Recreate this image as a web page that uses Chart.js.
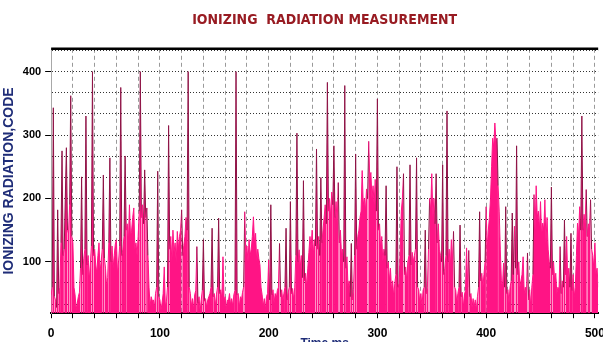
<!DOCTYPE html>
<html>
<head>
<meta charset="utf-8">
<script src="https://cdn.jsdelivr.net/npm/chart.js@4.4.0/dist/chart.umd.min.js"></script>
<style>
  html, body { margin: 0; padding: 0; background: #fff; overflow: hidden; }
  .chart-box { width: 613px; height: 351px; }
</style>
</head>
<body>
<div class="chart-box"><canvas id="radiation"></canvas></div>
<script>
// one reading per ms
const timeStepMs = 1;
const radiation = [
    48, 60, 343, 45, 40, 28, 182, 50, 60, 130,
    275, 110, 120, 200, 280, 150, 145, 190, 362, 140,
    130, 60, 48, 25, 35, 45, 52, 90, 234, 80,
    105, 120, 330, 95, 110, 70, 95, 125, 400, 110,
    120, 95, 82, 110, 130, 85, 100, 120, 237, 105,
    90, 60, 75, 130, 264, 100, 125, 90, 110, 128,
    135, 80, 100, 125, 375, 110, 120, 140, 267, 150,
    160, 130, 190, 140, 150, 170, 185, 120, 130, 110,
    140, 180, 400, 170, 190, 160, 245, 170, 185, 110,
    60, 30, 45, 38, 40, 28, 50, 60, 243, 45,
    40, 24, 35, 50, 92, 30, 38, 60, 315, 120,
    140, 100, 150, 115, 130, 100, 148, 120, 140, 150,
    182, 110, 126, 140, 170, 150, 400, 60, 50, 30,
    42, 25, 48, 55, 124, 35, 45, 22, 40, 55,
    135, 38, 42, 28, 40, 45, 50, 60, 153, 45,
    50, 30, 48, 60, 169, 50, 56, 40, 108, 38,
    45, 25, 40, 38, 50, 32, 42, 30, 48, 55,
    400, 48, 50, 28, 45, 40, 52, 60, 179, 110,
    125, 100, 135, 110, 120, 140, 171, 130, 145, 100,
    120, 105, 95, 60, 48, 30, 42, 25, 45, 50,
    103, 40, 190, 48, 56, 35, 50, 42, 55, 60,
    129, 45, 56, 38, 50, 60, 153, 40, 52, 60,
    195, 50, 58, 40, 60, 110, 303, 100, 119, 90,
    110, 75, 228, 70, 82, 60, 90, 115, 140, 120,
    150, 110, 135, 125, 278, 120, 140, 110, 233, 130,
    150, 170, 190, 160, 383, 180, 200, 170, 210, 190,
    283, 170, 195, 160, 225, 130, 150, 110, 120, 100,
    378, 90, 108, 60, 70, 45, 129, 40, 56, 110,
    270, 120, 140, 150, 170, 180, 244, 190, 200, 180,
    215, 200, 290, 230, 241, 200, 220, 190, 230, 180,
    357, 150, 160, 120, 140, 100, 120, 110, 220, 90,
    100, 70, 90, 55, 70, 45, 66, 80, 250, 60,
    66, 120, 180, 200, 239, 80, 92, 70, 100, 110,
    253, 95, 115, 100, 110, 120, 264, 60, 56, 35,
    50, 30, 55, 60, 150, 50, 60, 120, 200, 180,
    239, 170, 200, 160, 239, 130, 160, 120, 110, 100,
    253, 80, 90, 110, 338, 100, 120, 90, 135, 100,
    148, 60, 56, 35, 50, 60, 158, 45, 52, 28,
    48, 55, 122, 60, 118, 45, 50, 28, 42, 30,
    40, 24, 45, 60, 179, 70, 82, 60, 80, 100,
    187, 120, 150, 170, 200, 250, 295, 280, 319, 290,
    295, 220, 180, 120, 70, 60, 98, 60, 187, 50,
    56, 35, 60, 70, 177, 80, 156, 90, 283, 80,
    100, 60, 70, 80, 108, 50, 60, 45, 114, 40,
    56, 30, 60, 80, 206, 150, 220, 170, 180, 150,
    195, 140, 161, 150, 198, 130, 170, 120, 100, 90,
    218, 80, 100, 70, 82, 50, 60, 55, 124, 50,
    70, 60, 166, 80, 140, 70, 90, 60, 145, 55,
    80, 45, 60, 110, 161, 140, 187, 150, 330, 150,
    175, 160, 214, 140, 160, 150, 198, 120, 110, 90,
    130, 80, 90, 60
];
const xTickLabels = [0, 100, 200, 300, 400, 500];
const yTickLabels = [100, 200, 300, 400];

const points = radiation.map((v, i) => ({ x: i * timeStepMs, y: v }));

const isLabelled = (labels, value) => labels.some(l => Math.abs(l - value) < 0.01);

const navy = "#1f2d78";
const pink = "#ff1485";
const maroon = "#8e1446";

const ctx = document.getElementById("radiation").getContext("2d");

new Chart(ctx, {
    type: "line",
    data: {
        datasets: [{
            data: points,
            borderColor: pink,
            borderWidth: 1,
            backgroundColor: pink,
            fill: "start",
            pointRadius: 0,
            tension: 0,
            // tall jumps (the spikes) are drawn dark, the rest blends into the fill
            segment: {
                borderColor: (s) => Math.abs(s.p1.parsed.y - s.p0.parsed.y) > 70 ? maroon : pink
            }
        }]
    },
    options: {
        responsive: true,
        maintainAspectRatio: false,
        animation: false,
        layout: { padding: { left: 0, right: 0, top: 0, bottom: 0 } },
        plugins: {
            legend: { display: false },
            tooltip: { enabled: false },
            title: {
                display: true,
                fullSize: false,
                text: "IONIZING  RADIATION MEASUREMENT",
                color: "#981b22",
                font: { family: "'Liberation Sans Narrow', 'DejaVu Sans Condensed', sans-serif", size: 14, weight: "bold" },
                padding: { top: 12, bottom: 20 }
            }
        },
        scales: {
            x: {
                type: "linear",
                min: 0,
                max: 503,
                border: { display: true, color: "#000", width: 2, dash: [4, 3] },
                grid: {
                    color: "#9a9a9a",
                    tickColor: "#000",
                    tickLength: 5
                },
                ticks: {
                    stepSize: 20,
                    includeBounds: false,
                    autoSkip: false,
                    maxRotation: 0,
                    padding: 8,
                    color: "#000",
                    font: { family: "'Liberation Sans Narrow', sans-serif", size: 12, weight: "bold" },
                    callback: (value) => isLabelled(xTickLabels, value) ? value : ""
                },
                title: {
                    display: true,
                    text: "Time,ms",
                    color: navy,
                    font: { family: "'Liberation Sans', sans-serif", size: 12, weight: "bold" },
                    padding: { top: -12, bottom: 0 }
                }
            },
            y: {
                min: 19,
                max: 436,
                border: { display: true, color: "#a8a8a8", width: 1, dash: [1, 2] },
                grid: {
                    color: "#333",
                    tickLength: 6,
                    tickColor: (c) => isLabelled(yTickLabels, c.tick.value) ? "#000" : "rgba(0,0,0,0)"
                },
                ticks: {
                    stepSize: 100 / 3,
                    includeBounds: false,
                    autoSkip: false,
                    padding: 4,
                    color: "#000",
                    font: { family: "'Liberation Sans Narrow', sans-serif", size: 11, weight: "bold" },
                    callback: (value) => isLabelled(yTickLabels, value) ? Math.round(value) : ""
                },
                title: {
                    display: true,
                    text: "IONIZING RADIATION,CODE",
                    color: navy,
                    font: { family: "'Liberation Sans', sans-serif", size: 14, weight: "bold" },
                    padding: { top: 1, bottom: 1 }
                }
            }
        }
    },
    plugins: [{
        id: "topFrame",
        afterDraw: function (chart) {
            const { ctx, chartArea } = chart;
            ctx.save();
            ctx.strokeStyle = "#000";
            ctx.lineWidth = 2.5;
            ctx.beginPath();
            ctx.moveTo(chartArea.left, chartArea.top);
            ctx.lineTo(chartArea.right, chartArea.top);
            ctx.stroke();
            ctx.restore();
        }
    }]
});
</script>
</body>
</html>
